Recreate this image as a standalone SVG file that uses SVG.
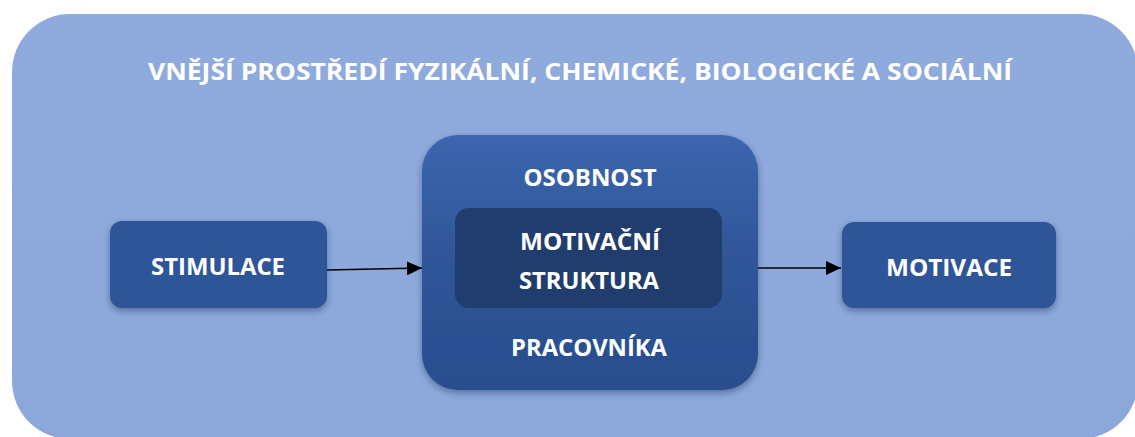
<svg xmlns="http://www.w3.org/2000/svg" width="1135" height="437" viewBox="0 0 1135 437">
<defs>
<style>
.t{font-family:"Open Sans","Liberation Sans",sans-serif;font-weight:bold;fill:#ffffff;text-anchor:middle}
.box{fill:#2F5597}
.conn{stroke:#000000;stroke-width:1.3;fill:none}
</style>
<linearGradient id="gOuter" x1="0" y1="0" x2="0" y2="1">
<stop offset="0" stop-color="#8FAADC"/>
<stop offset="1" stop-color="#8CA8DA"/>
</linearGradient>
<linearGradient id="gCenter" x1="0" y1="0" x2="0" y2="1">
<stop offset="0" stop-color="#3C66AF"/>
<stop offset="0.5" stop-color="#2F5597"/>
<stop offset="1" stop-color="#2A4E8E"/>
</linearGradient>
<filter id="sh" x="-10%" y="-10%" width="120%" height="130%">
<feDropShadow dx="0" dy="3" stdDeviation="3" flood-color="#1a2f55" flood-opacity="0.45"/>
</filter>
<marker id="ah" viewBox="0 0 15 14" refX="15" refY="7" markerWidth="15" markerHeight="14" markerUnits="userSpaceOnUse" orient="auto">
<path d="M0,0 L15,7 L0,14 z" fill="#000000"/>
</marker>
</defs>
<rect width="1135" height="437" fill="#ffffff"/>
<g id="outer">
<rect x="12" y="14" width="1126" height="425" rx="58" ry="58" fill="url(#gOuter)"/>
<text class="t" x="580" y="80" font-size="24" textLength="864" lengthAdjust="spacingAndGlyphs">VNĚJŠÍ PROSTŘEDÍ FYZIKÁLNÍ, CHEMICKÉ, BIOLOGICKÉ A SOCIÁLNÍ</text>
</g>
<g id="connectors">
<line class="conn" x1="327" y1="270" x2="422" y2="268" marker-end="url(#ah)"/>
<line class="conn" x1="758" y1="268" x2="841" y2="268" marker-end="url(#ah)"/>
</g>
<g id="stimulace">
<rect class="box" x="110" y="221" width="217" height="87" rx="12" filter="url(#sh)"/>
<text class="t" x="218" y="275" font-size="24" textLength="134" lengthAdjust="spacingAndGlyphs">STIMULACE</text>
</g>
<g id="osobnost">
<rect x="422" y="135" width="336" height="255" rx="36" fill="url(#gCenter)" filter="url(#sh)"/>
<text class="t" x="590" y="186" font-size="24" textLength="133" lengthAdjust="spacingAndGlyphs">OSOBNOST</text>
<text class="t" x="589" y="356" font-size="24" textLength="156" lengthAdjust="spacingAndGlyphs">PRACOVNÍKA</text>
</g>
<g id="motivacni-struktura">
<rect x="455" y="208" width="267" height="100" rx="14" fill="#213D6E"/>
<text class="t" x="590" y="250" font-size="24" textLength="140" lengthAdjust="spacingAndGlyphs">MOTIVAČNÍ</text>
<text class="t" x="589" y="289" font-size="24" textLength="140" lengthAdjust="spacingAndGlyphs">STRUKTURA</text>
</g>
<g id="motivace">
<rect class="box" x="842" y="222" width="214" height="86" rx="12" filter="url(#sh)"/>
<text class="t" x="949" y="276" font-size="24" textLength="126" lengthAdjust="spacingAndGlyphs">MOTIVACE</text>
</g>
</svg>
